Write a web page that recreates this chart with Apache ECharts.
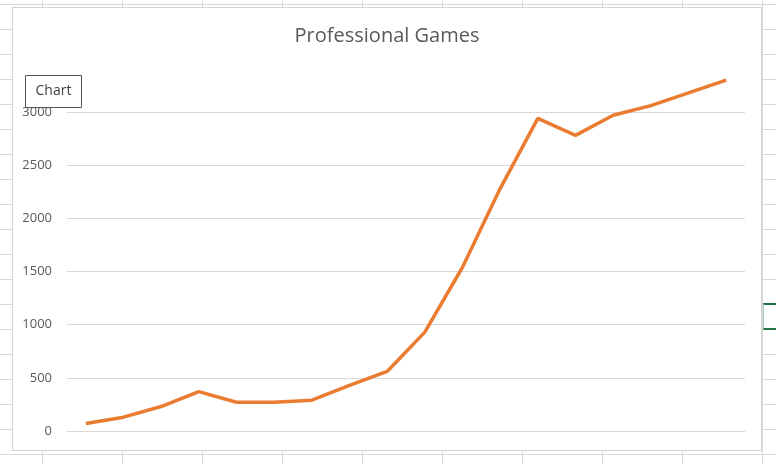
<!DOCTYPE html>
<html>
<head>
<meta charset="utf-8">
<script src="https://cdn.jsdelivr.net/npm/echarts@6/dist/echarts.min.js"></script>
<style>
  html, body {
    margin: 0;
    padding: 0;
    width: 776px;
    height: 464px;
    overflow: hidden;
    background: #fff;
  }
  /* spreadsheet cells behind the chart */
  .sheet {
    position: absolute;
    left: 0;
    top: 0;
    width: 776px;
    height: 464px;
    background-image:
      repeating-linear-gradient(to right, transparent 0 42px, #d9d9d9 42px 43px, transparent 43px 80px),
      repeating-linear-gradient(to bottom, transparent 0 4px, #d9d9d9 4px 5px, transparent 5px 25px);
  }
  .selected-cell {
    position: absolute;
    left: 763px;
    top: 303px;
    width: 14px;
    height: 23px;
    border-top: 2px solid #217346;
    border-bottom: 2px solid #217346;
    border-left: 1px solid #a9cdb8;
  }
  .chart-box {
    position: absolute;
    left: 12px;
    top: 7px;
    width: 748px;
    height: 442px;
    background: #fff;
    border: 1px solid #d4d4d4;
  }
  #chart {
    width: 748px;
    height: 442px;
  }
</style>
</head>
<body>
<div class="sheet"></div>
<div class="selected-cell"></div>
<div class="chart-box"><div id="chart"></div></div>

<script>
const categories = ["1", "2", "3", "4", "5", "6", "7", "8", "9", "10", "11", "12", "13", "14", "15", "16", "17", "18"];
const games = [70, 130, 230, 370, 270, 270, 290, 430, 560, 930, 1540, 2280, 2940, 2780, 2970, 3060, 3180, 3300];
const yTicks = [0, 500, 1000, 1500, 2000, 2500, 3000];

const chart = echarts.init(document.getElementById("chart"));

const option = {
  animation: false,
  title: {
    text: "Professional Games",
    left: "center",
    top: 13,
    textStyle: {
      fontFamily: "Open Sans",
      fontSize: 20,
      fontWeight: "normal",
      color: "#595959",
    },
  },
  grid: {
    left: 54,
    top: 104,
    width: 678,
    height: 319,
  },
  xAxis: {
    type: "category",
    data: categories,
    boundaryGap: true,
    axisLabel: { show: false },
    axisTick: { show: false },
    axisLine: { lineStyle: { color: "#d9d9d9", width: 1 } },
  },
  yAxis: {
    type: "value",
    min: yTicks[0],
    max: yTicks[yTicks.length - 1],
    interval: 500,
    axisLine: { show: false },
    axisTick: { show: false },
    axisLabel: {
      margin: 15,
      fontFamily: "Open Sans",
      fontSize: 13,
      color: "#595959",
      formatter: (v) => String(v),
    },
    splitLine: { lineStyle: { color: "#d9d9d9", width: 1 } },
  },
  series: [
    {
      name: "Professional Games",
      type: "line",
      data: games,
      showSymbol: false,
      clip: false,
      lineStyle: { color: "#ea7c32", width: 3.5 },
      itemStyle: { color: "#ea7c32" },
    },
  ],
  // the small "Chart" label box sitting over the axis
  graphic: [
    {
      type: "group",
      left: 12,
      top: 67,
      z: 100,
      children: [
        {
          type: "rect",
          shape: { x: 0, y: 0, width: 56, height: 32 },
          style: { fill: "#fff", stroke: "#555", lineWidth: 1 },
        },
        {
          type: "text",
          x: 28,
          y: 16,
          style: {
            text: "Chart",
            fontFamily: "Open Sans",
            fontSize: 14,
            fill: "#404040",
            align: "center",
            verticalAlign: "middle",
          },
        },
      ],
    },
  ],
};

chart.setOption(option);
</script>
</body>
</html>
